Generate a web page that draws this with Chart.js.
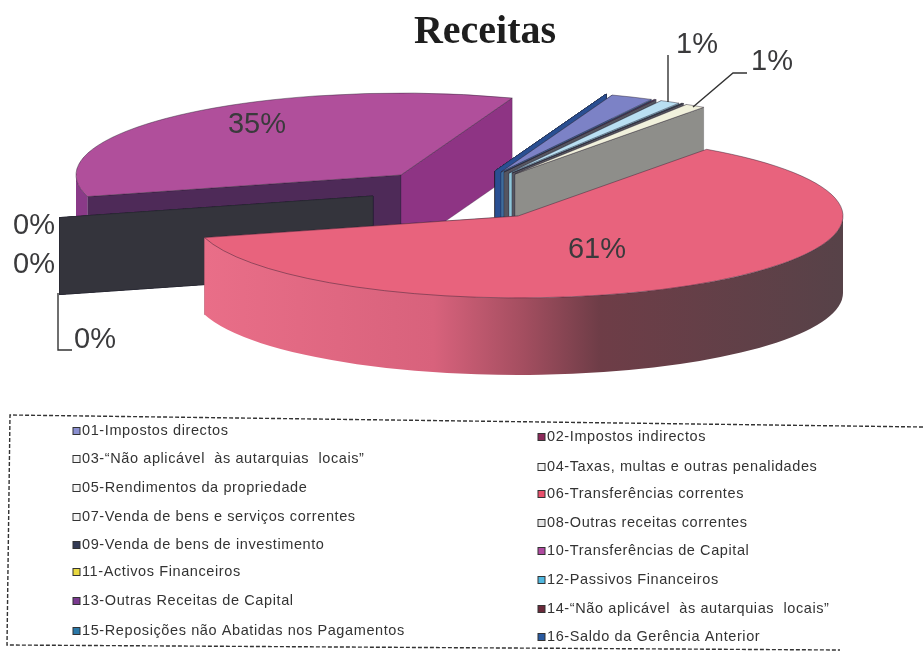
<!DOCTYPE html>
<html><head><meta charset="utf-8">
<style>html,body{margin:0;padding:0;background:#fff}canvas{display:block}</style>
<script src="https://cdn.jsdelivr.net/npm/chart.js@4"></script>
</head><body><canvas id="c" width="923" height="652"></canvas>
<script>
const categories = ["01-Impostos directos","02-Impostos indirectos","03-“Não aplicável  às autarquias  locais”","04-Taxas, multas e outras penalidades","05-Rendimentos da propriedade","06-Transferências correntes","07-Venda de bens e serviços correntes","08-Outras receitas correntes","09-Venda de bens de investimento","10-Transferências de Capital","11-Activos Financeiros","12-Passivos Financeiros","13-Outras Receitas de Capital","14-“Não aplicável  às autarquias  locais”","15-Reposições não Abatidas nos Pagamentos","16-Saldo da Gerência Anterior"];
const values = [2.1,0.1,1.0,0.1,1.0,60.9,0,0,0,34.8,0,0,0,0,0,0];
const topColors = ["#7c82c6","#5a3f66","#b9dff2","#3c4a55","#f1f1dc","#e8637d","#d8d8d8","#cccccc","#34343c","#b04f9b","#e8d840","#50b8e0","#7a3a90","#6a2a3a","#2a78a8","#2a4f92"];
const wallColors = ["#3f6c9c","#555560","#8fc6da","#555560","#8e8e8a",null,"#34343c","#34343c","#34343c","#4e2a58","#2a4f92","#2a4f92","#2a4f92","#2a4f92","#2a4f92","#2a4f92"];
const endWallColors = ["#3f6c9c","#555560","#8fc6da","#555560","#8e8e8a","#e4647e","#34343c","#34343c","#34343c","#8e3484","#2a4f92","#2a4f92","#2a4f92","#2a4f92","#2a4f92","#2a4f92"];
const swatchColors = ["#8a8fd0","#8c2a5a","#f4f4f4","#f4f4f4","#f4f4f4","#e8506c","#f4f4f4","#e6e6e6","#333a55","#b04aa0","#e8d840","#50b8e0","#7a3a90","#6a2a3a","#2a78a8","#2a5aa0"];
const shiftX = [41,44,49,52,55,58,-87,-87,-87,-59,35,35,35,35,35,35];
const shiftY = [-23,-23,-22,-22,-21,21,1,1,1,-20,-24,-24,-24,-24,-24,-24];
const drawOrder = [9,6,7,8,10,11,12,13,14,15,0,1,2,3,4,5];
const pctLabels = ["35%","61%","1%","1%","0%","0%","0%"];
const pctX = [257,597,697,772,34,34,95];
const pctY = [125,250,45,62,226,265,340];
const leaders = [[[668,55],[668,102]],[[693,107],[733,73],[747,73]],[[58,293],[58,350],[72,350]]];
const legendCol1Y = [431,459,488,517,545,572,601,631];
const legendCol2Y = [437,467,494,523,551,580,609,637];

const CX = 460, CY = 195, SQUASH = 0.252, DEPTH = 77;

const pie3d = {
  id:'pie3d',
  beforeDatasetsDraw(chart){
    const ctx = chart.ctx, arcs = chart.getDatasetMeta(0).data;
    for(const i of drawOrder){
      const el = arcs[i], R = el.outerRadius, a0 = el.startAngle, a1 = el.endAngle;
      const ox = CX+shiftX[i], oy = CY+shiftY[i];
      const px = a=>ox+R*Math.cos(a), py = a=>oy+R*SQUASH*Math.sin(a);
      const wall = (a,col)=>{
        ctx.beginPath();ctx.moveTo(ox,oy);ctx.lineTo(px(a),py(a));
        ctx.lineTo(px(a),py(a)+DEPTH);ctx.lineTo(ox,oy+DEPTH);ctx.closePath();
        ctx.fillStyle=col;ctx.fill();
        ctx.strokeStyle='rgba(30,30,40,.35)';ctx.lineWidth=.7;ctx.stroke();
      };
      if(wallColors[i]) wall(a0,wallColors[i]);
      wall(a1,endWallColors[i]);
      // curved outer wall: the part of the rim that faces the viewer
      for(const [lo,hi] of [[0,Math.PI],[2*Math.PI,3*Math.PI]]){
        const s=Math.max(a0,lo), e=Math.min(a1,hi);
        if(e<=s) continue;
        ctx.beginPath();
        ctx.ellipse(ox,oy,R,R*SQUASH,0,s,e);
        ctx.ellipse(ox,oy+DEPTH,R,R*SQUASH,0,e,s,true);
        ctx.closePath();
        if(i===5){
          const g=ctx.createLinearGradient(204,0,842,0);
          g.addColorStop(0,'#e96e88');g.addColorStop(.36,'#d8627c');g.addColorStop(.5,'#a44e60');
          g.addColorStop(.62,'#6e3d47');g.addColorStop(1,'#574248');
          ctx.fillStyle=g;
        } else ctx.fillStyle='#8a3a88';
        ctx.fill();
      }
      // top face, drawn by the library's arc element under a squash transform
      ctx.save();
      ctx.translate(ox,oy);ctx.scale(1,SQUASH);ctx.translate(-el.x,-el.y);
      el.draw(ctx);
      if(el.circumference>0){
        ctx.beginPath();ctx.moveTo(el.x,el.y);ctx.arc(el.x,el.y,R,a0,a1);ctx.closePath();
        ctx.restore();
        ctx.strokeStyle='rgba(40,30,45,.55)';ctx.lineWidth=.8;ctx.stroke();
      } else ctx.restore();
    }
    return false;
  },
  afterDraw(chart){
    const ctx = chart.ctx;
    // leader lines
    ctx.strokeStyle='#333';ctx.lineWidth=1.4;
    for(const l of leaders){ctx.beginPath();l.forEach((p,k)=>k?ctx.lineTo(p[0],p[1]):ctx.moveTo(p[0],p[1]));ctx.stroke();}
    // percent labels
    ctx.fillStyle='#3a3a3c';ctx.font='29px "Liberation Sans"';ctx.textAlign='center';ctx.textBaseline='middle';
    pctLabels.forEach((t,i)=>ctx.fillText(t,pctX[i],pctY[i]));
    // legend frame
    ctx.save();ctx.setLineDash([4,2]);ctx.strokeStyle='#333';ctx.lineWidth=1.4;
    ctx.beginPath();ctx.moveTo(923,427);ctx.lineTo(10,415);ctx.lineTo(7,645);ctx.lineTo(840,650);ctx.stroke();ctx.restore();
    // legend entries
    ctx.textAlign='left';ctx.font='14.5px "Liberation Sans"';ctx.letterSpacing='0.6px';
    categories.forEach((t,i)=>{
      const col=i%2, row=(i-col)/2, y=(col?legendCol2Y:legendCol1Y)[row], x=col?538:73;
      ctx.fillStyle=swatchColors[i];ctx.fillRect(x,y-3.5,7,7);
      ctx.strokeStyle='#333';ctx.lineWidth=1;ctx.strokeRect(x,y-3.5,7,7);
      ctx.fillStyle='#333';ctx.fillText(t,x+9,y);
    });
    ctx.letterSpacing='0px';
  }
};

new Chart(document.getElementById('c'),{
  type:'pie',
  data:{labels:categories,datasets:[{data:values,backgroundColor:topColors,borderWidth:0}]},
  options:{
    responsive:false,animation:false,rotation:20,radius:325,
    layout:{padding:{left:47}},
    plugins:{
      legend:{display:false},tooltip:{enabled:false},
      title:{display:true,text:'Receitas',color:'#1e1e1e',font:{family:'"Liberation Serif"',size:40,weight:'bold'},padding:{top:9,bottom:4}}
    }
  },
  plugins:[pie3d]
});
</script></body></html>
